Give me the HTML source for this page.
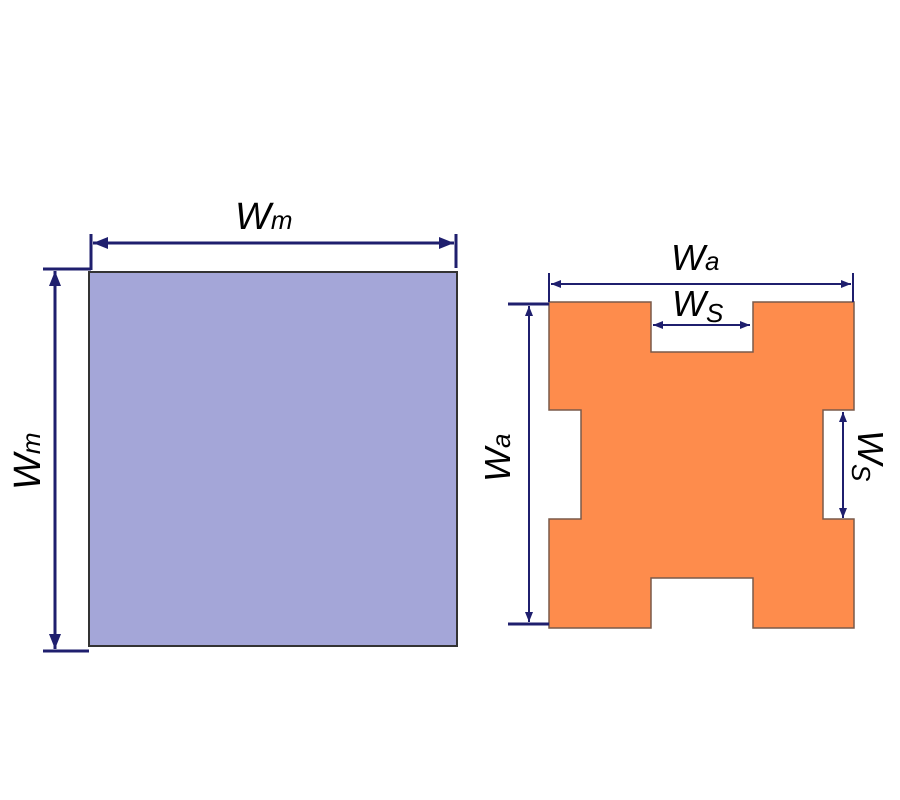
<!DOCTYPE html>
<html><head><style>body{margin:0;background:#fff}svg{display:block}</style></head><body>
<svg width="900" height="800" xmlns="http://www.w3.org/2000/svg" font-family="Liberation Sans, sans-serif" font-style="italic">
<defs>
<marker id="a" viewBox="0 0 10 10" refX="10" refY="5" markerWidth="5" markerHeight="5" orient="auto-start-reverse"><path d="M0,1 L10,5 L0,9 Z" fill="#1f1f6e"/></marker>
</defs>
<rect x="89" y="272" width="368" height="374" fill="#a4a6d8" stroke="#333" stroke-width="2"/>
<g stroke="#1f1f6e" stroke-width="3" fill="none">
<line x1="91" y1="234" x2="91" y2="270"/>
<line x1="456" y1="234" x2="456" y2="268"/>
<line x1="93" y1="243" x2="454" y2="243" marker-start="url(#a)" marker-end="url(#a)"/>
<line x1="43" y1="269" x2="91" y2="269"/>
<line x1="43" y1="651" x2="89" y2="651"/>
<line x1="55" y1="271" x2="55" y2="649" marker-start="url(#a)" marker-end="url(#a)"/>
</g>
<path d="M549,302 H651 V352 H753 V302 H854 V410 H823 V519 H854 V628 H753 V578 H651 V628 H549 V519 H581 V410 H549 Z" fill="#fe8c4c" stroke="#7a5a4a" stroke-width="1.5"/>
<g stroke="#1f1f6e" stroke-width="2" fill="none">
<line x1="549" y1="273" x2="549" y2="302"/>
<line x1="853" y1="273" x2="853" y2="302"/>
<line x1="551" y1="284" x2="851" y2="284" marker-start="url(#a)" marker-end="url(#a)"/>
<line x1="653" y1="325" x2="750" y2="325" marker-start="url(#a)" marker-end="url(#a)"/>
<line x1="508" y1="304" x2="549" y2="304" stroke-width="3"/>
<line x1="508" y1="624" x2="549" y2="624" stroke-width="3"/>
<line x1="529" y1="306" x2="529" y2="622" marker-start="url(#a)" marker-end="url(#a)"/>
<line x1="843" y1="412" x2="843" y2="518" marker-start="url(#a)" marker-end="url(#a)"/>
</g>
<g fill="#000">
<text x="235" y="229" font-size="38">W<tspan font-size="26" dy="0">m</tspan></text>
<text x="671" y="270" font-size="36">W<tspan font-size="26">a</tspan></text>
<text x="672" y="316" font-size="36">W<tspan font-size="26" dy="6">S</tspan></text>
<text transform="translate(40,490) rotate(-90)" font-size="38">W<tspan font-size="26">m</tspan></text>
<text transform="translate(510,482) rotate(-90)" font-size="36">W<tspan font-size="26">a</tspan></text>
<text transform="translate(858,430) rotate(90)" font-size="36">W<tspan font-size="26" dy="6">S</tspan></text>
</g>
</svg>
</body></html>
